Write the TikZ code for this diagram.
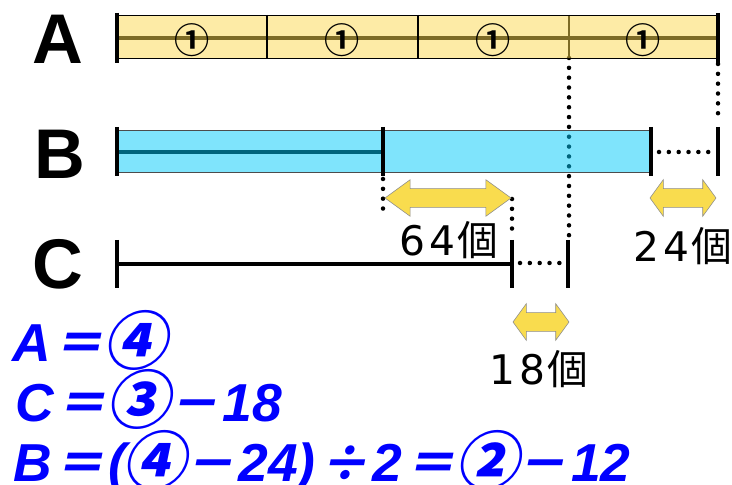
\documentclass[tikz,border=0pt]{standalone}
\usepackage{fontspec}
\setmainfont{Liberation Sans}
\newfontfamily\jpfont{Noto Sans CJK JP}
\newfontfamily\jpbold{Noto Sans CJK JP Bold}
\newfontfamily\digfont{DejaVu Sans}
\newfontfamily\eqfont{Noto Sans CJK JP Bold}[FakeSlant=0.2]
\newcommand\circd[1]{\makebox[39pt]{\raisebox{-1.5pt}{\eqfont\fontsize{45}{45}\selectfont#1}}}
\newcommand\fw[1]{\makebox[40.5pt]{\eqfont\fontsize{35}{35}\selectfont#1}}
\usetikzlibrary{shapes.arrows}
\definecolor{agold}{RGB}{251,215,77}
\definecolor{bcyan}{RGB}{0,201,249}
\definecolor{ayellow}{RGB}{249,220,78}
\tikzset{
	rowname/.style={font=\bfseries\fontsize{50}{50}\selectfont,inner sep=0pt},
	endmark/.style={line width=2.8pt},
	dots/.style={line width=3.2pt,line cap=round,dash pattern=on 0pt off 7pt},
	diff/.style={double arrow,draw=black!45,fill=ayellow,inner xsep=0pt,inner ysep=0.225cm,double arrow head extend=0.225cm},
	numlabel/.style={font=\digfont\fontsize{29}{29}\selectfont,inner sep=0pt},
	eq/.style={font=\bfseries\itshape\fontsize{38}{38}\selectfont,text=blue,anchor=base west,inner sep=0pt}
}
\begin{document}
\begin{tikzpicture}[x=0.025cm,y=-0.025cm]
	\useasboundingbox (0,0) rectangle (732,485);

	\node(ra) [rowname] at (58,39) {A};
	\node(rb) [rowname] at (60,154) {B};
	\node(rc) [rowname] at (58,264) {C};

	\coordinate(a0) at (117,38);
	\coordinate(a4) at (718,38);
	\coordinate(a3) at (569,58);
	\coordinate(c3) at (569,237);
	\coordinate(a4d) at (718,64);
	\coordinate(b4u) at (718,119);
	\coordinate(b0) at (117,152);
	\coordinate(b1) at (383,152);
	\coordinate(b1d) at (383,179);
	\coordinate(b1e) at (383,218);
	\coordinate(b2) at (659,152);
	\coordinate(b3) at (711,152);
	\coordinate(c0) at (117,264);
	\coordinate(c1) at (512,264);
	\coordinate(c1u) at (512,199);
	\coordinate(c1e) at (512,236);
	\coordinate(c2) at (520,263);
	\coordinate(c2e) at (561,263);

	\draw[line width=3.5pt](a0) -- (a4);
	\draw[line width=0.8pt](569,15) -- (569,58);
	\draw[line width=2.8pt](b0) -- (b1);
	\draw[dots](a3) -- (c3);
	\fill[agold,fill opacity=0.5](117,15) rectangle (718,58);
	\draw[line width=0.6pt](117,15) rectangle (718,58);
	\draw[line width=0.8pt](267,15) -- (267,58);
	\draw[line width=0.8pt](418,15) -- (418,58);
	\fill[bcyan,fill opacity=0.5](117,130) rectangle (651,172);
	\draw[line width=0.6pt,black!70](117,130) rectangle (651,172);

	\draw[endmark](117,13) -- (117,63);
	\draw[endmark](718,13) -- (718,63);
	\draw[endmark](117,127) -- (117,176);
	\draw[endmark](383,127) -- (383,176);
	\draw[endmark](651,127) -- (651,176);
	\draw[endmark](718,127) -- (718,176);
	\draw[endmark](c0) -- (c1);
	\draw[endmark](117,240) -- (117,288);
	\draw[endmark](512,240) -- (512,288);
	\draw[endmark](568,240) -- (568,288);

	\draw[dots](a4d) -- (b4u);
	\draw[dots](b2) -- (b3);
	\draw[dots](b1d) -- (b1e);
	\draw[dots](c1u) -- (c1e);
	\draw[dots](c2) -- (c2e);

	\foreach \i in {1,...,4}
		\node(u\i) [font=\jpbold\fontsize{25}{25}\selectfont,inner sep=0pt] at ({117+150.25*(\i-0.5)},40) {①};

	\node(d64) [diff,minimum height=3.15cm,double arrow tip angle=72] at (448,198) {};
	\node(d24) [diff,minimum height=1.65cm,double arrow tip angle=108] at (683,198) {};
	\node(d18) [diff,minimum height=1.4cm,double arrow tip angle=108] at (541,322) {};
	\node(n64) [numlabel] at (449,240) {6\kern3pt4\kern1pt{\jpfont 個}};
	\node(n24) [numlabel] at (683,246) {2\kern3pt4\kern1pt{\jpfont 個}};
	\node(n18) [numlabel] at (539,369) {1\kern3pt8\kern1pt{\jpfont 個}};

	\node(eqa) [eq] at (12,362) {A\fw{＝}\circd{④}};
	\node(eqc) [eq] at (15,421) {C\fw{＝}\circd{③}\fw{－}18};
	\node(eqb) [eq] at (13,482) {B\fw{＝}(\circd{④}\fw{－}24)\fw{÷}2\fw{＝}\circd{②}\fw{－}12};
\end{tikzpicture}
\end{document}
